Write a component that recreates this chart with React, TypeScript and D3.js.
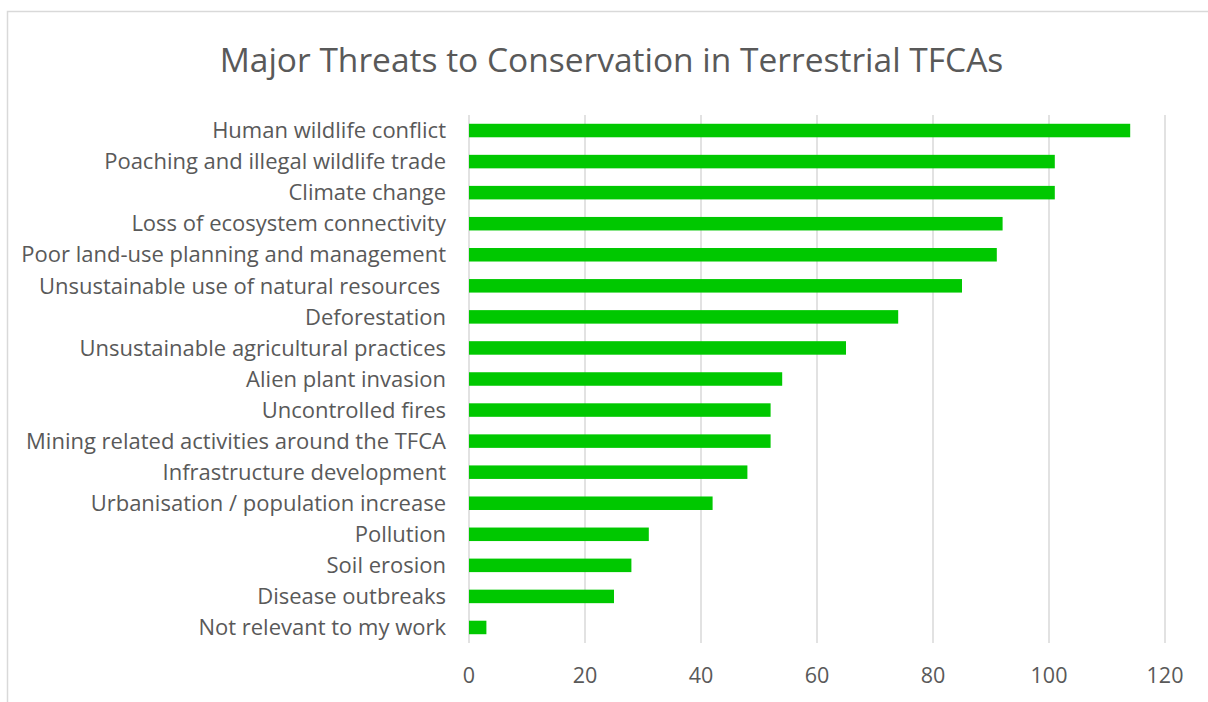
import * as d3 from 'd3';
import { useEffect, useRef } from 'react';

const threats = [
    'Human wildlife conflict',
    'Poaching and illegal wildlife trade',
    'Climate change',
    'Loss of ecosystem connectivity',
    'Poor land-use planning and management',
    'Unsustainable use of natural resources ',
    'Deforestation',
    'Unsustainable agricultural practices',
    'Alien plant invasion',
    'Uncontrolled fires',
    'Mining related activities around the TFCA',
    'Infrastructure development',
    'Urbanisation / population increase',
    'Pollution',
    'Soil erosion',
    'Disease outbreaks',
    'Not relevant to my work',
];

const counts = [114, 101, 101, 92, 91, 85, 74, 65, 54, 52, 52, 48, 42, 31, 28, 25, 3];

const xTicks = [0, 20, 40, 60, 80, 100, 120];

export default function App() {
    const ref = useRef<SVGSVGElement | null>(null);

    useEffect(() => {
        const svg = d3.select(ref.current);
        svg.selectAll('*').remove();

        const width = 1208;
        const height = 702;
        const font = '"Open Sans", Lato, sans-serif';
        const textColor = '#595959';

        svg.attr('width', width).attr('height', height);

        svg.append('rect')
            .attr('x', 7.5)
            .attr('y', 11.5)
            .attr('width', width)
            .attr('height', height)
            .attr('fill', '#fff')
            .attr('stroke', '#d9d9d9')
            .attr('stroke-width', 1.5);

        const x = d3.scaleLinear().domain([0, 120]).range([469, 1165]);
        const y = d3.scaleBand<string>()
            .domain(threats)
            .range([115, 643])
            .paddingInner(0.565)
            .paddingOuter(0.2825);

        // gridlines
        svg.append('g')
            .selectAll('line')
            .data(xTicks)
            .join('line')
            .attr('x1', d => x(d))
            .attr('x2', d => x(d))
            .attr('y1', 115)
            .attr('y2', 643)
            .attr('stroke', '#d9d9d9')
            .attr('stroke-width', 1.5);

        // bars
        svg.append('g')
            .selectAll('rect')
            .data(counts)
            .join('rect')
            .attr('x', x(0))
            .attr('y', (_, i) => y(threats[i])!)
            .attr('width', d => x(d) - x(0))
            .attr('height', y.bandwidth())
            .attr('fill', '#00c800');

        // category labels
        svg.append('g')
            .selectAll('text')
            .data(threats)
            .join('text')
            .attr('x', 446)
            .attr('y', d => y(d)! + y.bandwidth() / 2)
            .attr('dy', '0.35em')
            .attr('text-anchor', 'end')
            .style('white-space', 'pre')
            .attr('font-family', font)
            .attr('font-size', 22)
            .attr('fill', textColor)
            .text(d => d);

        // x tick labels
        svg.append('g')
            .selectAll('text')
            .data(xTicks)
            .join('text')
            .attr('x', d => x(d))
            .attr('y', 675)
            .attr('dy', '0.35em')
            .attr('text-anchor', 'middle')
            .attr('font-family', font)
            .attr('font-size', 21.5)
            .attr('fill', textColor)
            .text(d => d);

        svg.append('text')
            .attr('x', 611.5)
            .attr('y', 60)
            .attr('dy', '0.35em')
            .attr('text-anchor', 'middle')
            .attr('font-family', font)
            .attr('font-size', 33.5)
            .attr('fill', textColor)
            .text('Major Threats to Conservation in Terrestrial TFCAs');
    }, []);

    return <svg ref={ref} style={{ position: 'absolute', left: 0, top: 0, display: 'block' }}></svg>;
}
